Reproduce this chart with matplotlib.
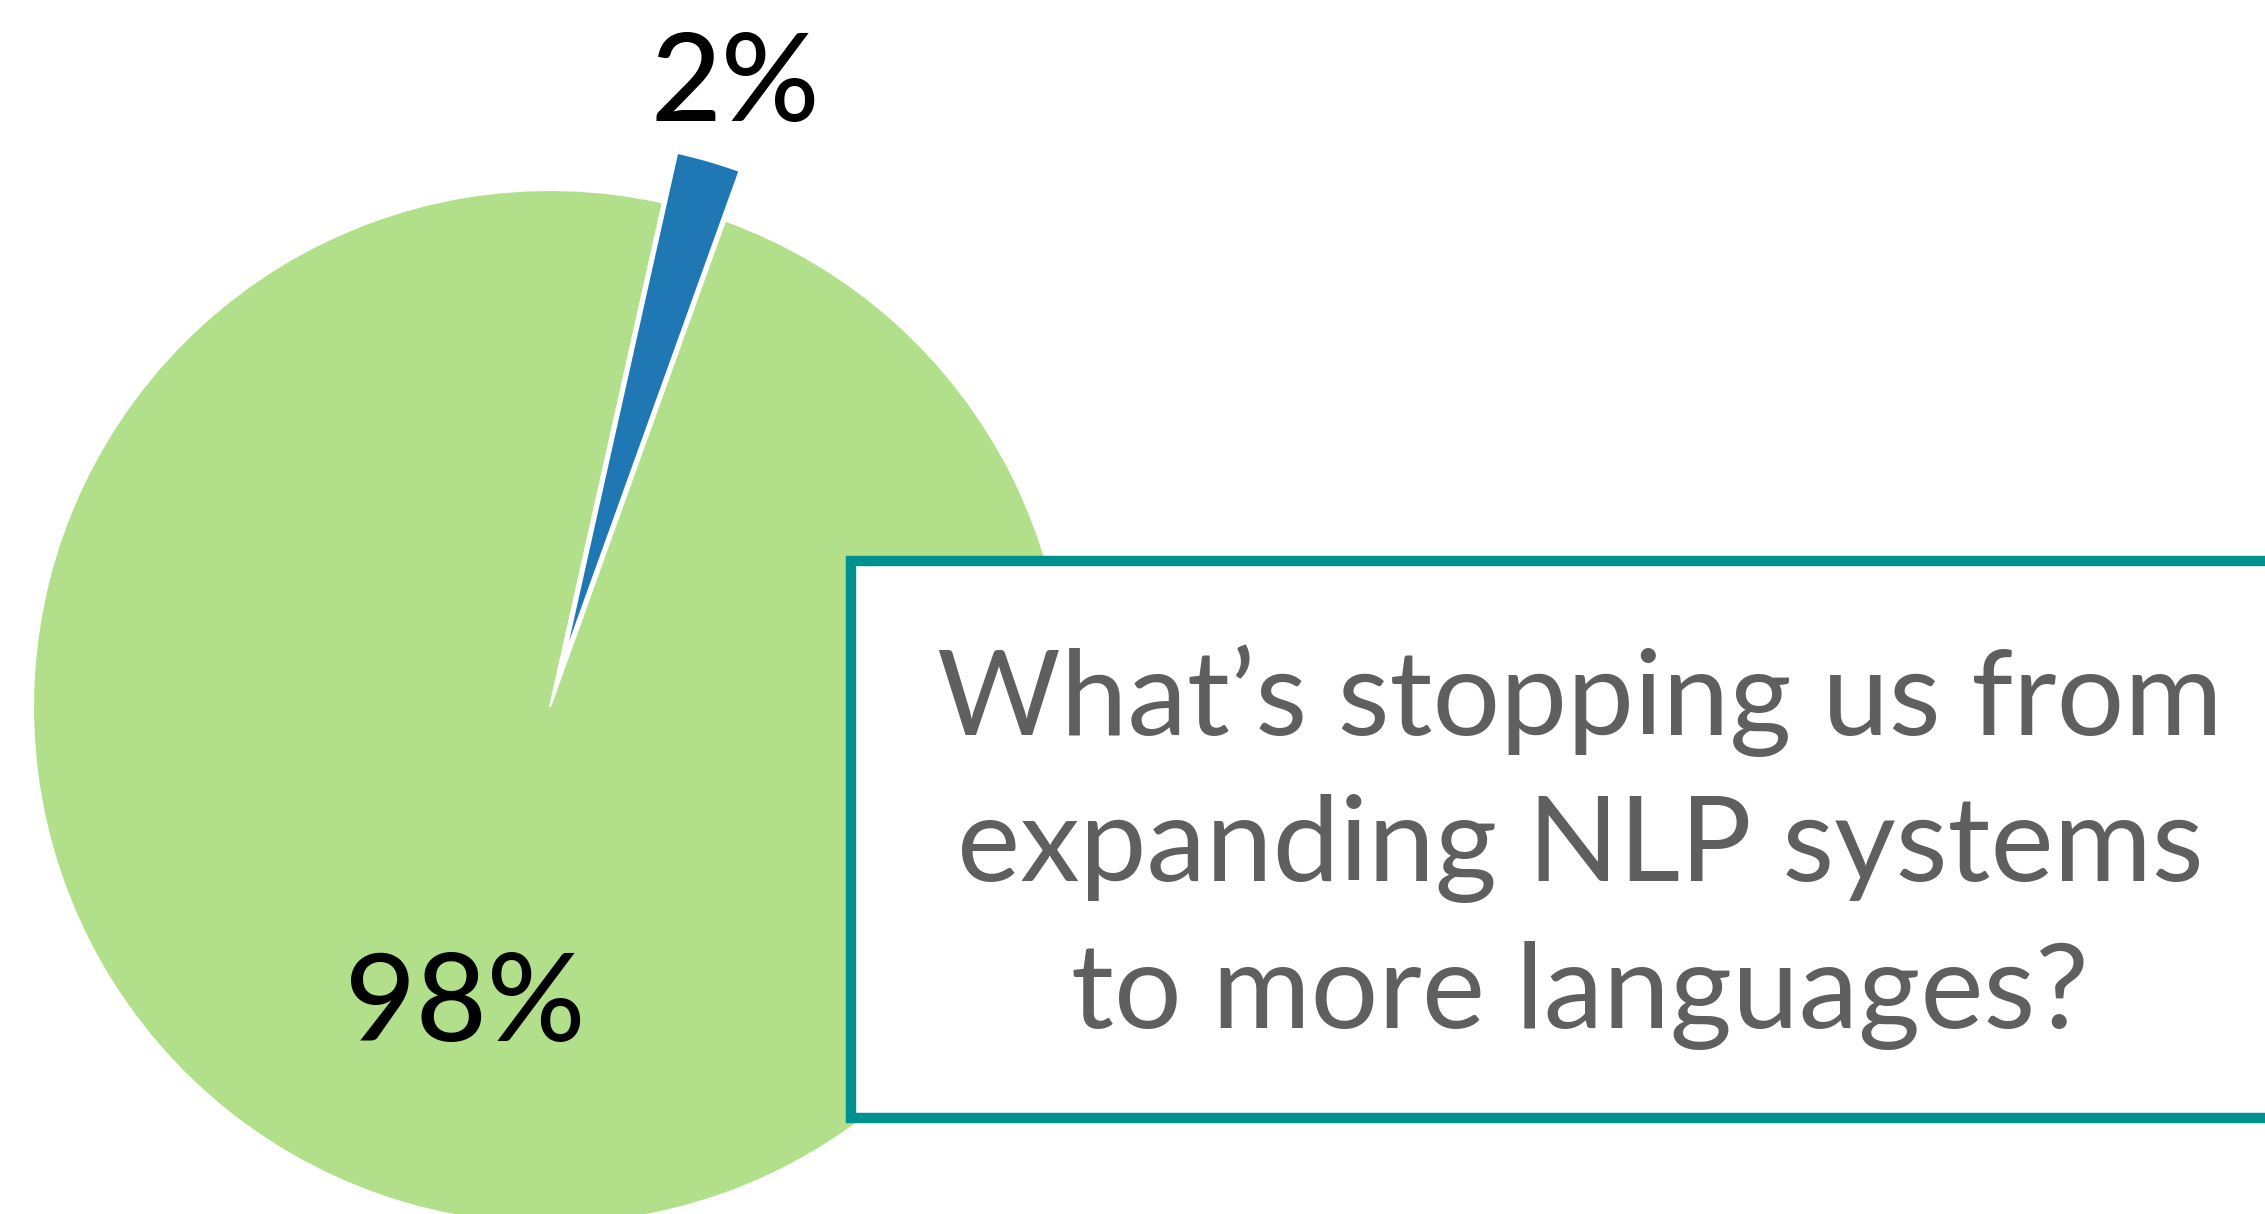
import matplotlib.pyplot as plt
from matplotlib.patches import Rectangle

# share of languages covered vs not covered
shares = [2, 98]
colors = ["#1f78b4", "#b2df8a"]
question_lines = [
    "What\u2019s stopping us from",
    "expanding NLP systems",
    "to more languages?",
]

W, H = 2265, 1214

fig = plt.figure(figsize=(W / 100, H / 100), dpi=100)
ax = fig.add_axes([0, 0, 1, 1])

radius = 517
wedges, texts, autotexts = ax.pie(
    shares,
    colors=colors,
    startangle=70.2,
    counterclock=True,
    center=(550, H - 707),
    radius=radius,
    explode=[0.1 * radius, 0],
    autopct="%.0f%%",
    pctdistance=0.6,
    wedgeprops=dict(edgecolor="white", linewidth=1.5),
    textprops=dict(family=["Lato", "DejaVu Sans"], fontsize=88,
                   fontweight="medium", color="black"),
)

# put the percent labels where they sit in the slide
autotexts[0].set_position((735, H - 86))
autotexts[1].set_position((465, H - 1007))
for t in autotexts:
    t.set_ha("center")
    t.set_va("center")

ax.set_xlim(0, W)
ax.set_ylim(0, H)
ax.set_aspect("equal")
ax.axis("off")

# question box on the right, running off the edge
box = Rectangle((850.5, H - 1117.5), 1500, 557, facecolor="white",
                edgecolor="#00918f", linewidth=7.5, zorder=5, clip_on=False)
ax.add_patch(box)

baselines = [735, 881, 1028]
for line, yb in zip(question_lines, baselines):
    ax.text(1580, H - yb, line, ha="center", va="baseline", fontsize=86,
            family=["Lato", "DejaVu Sans"], color="#5f5f5f", zorder=6)

fig.savefig("out.png", dpi=100)
